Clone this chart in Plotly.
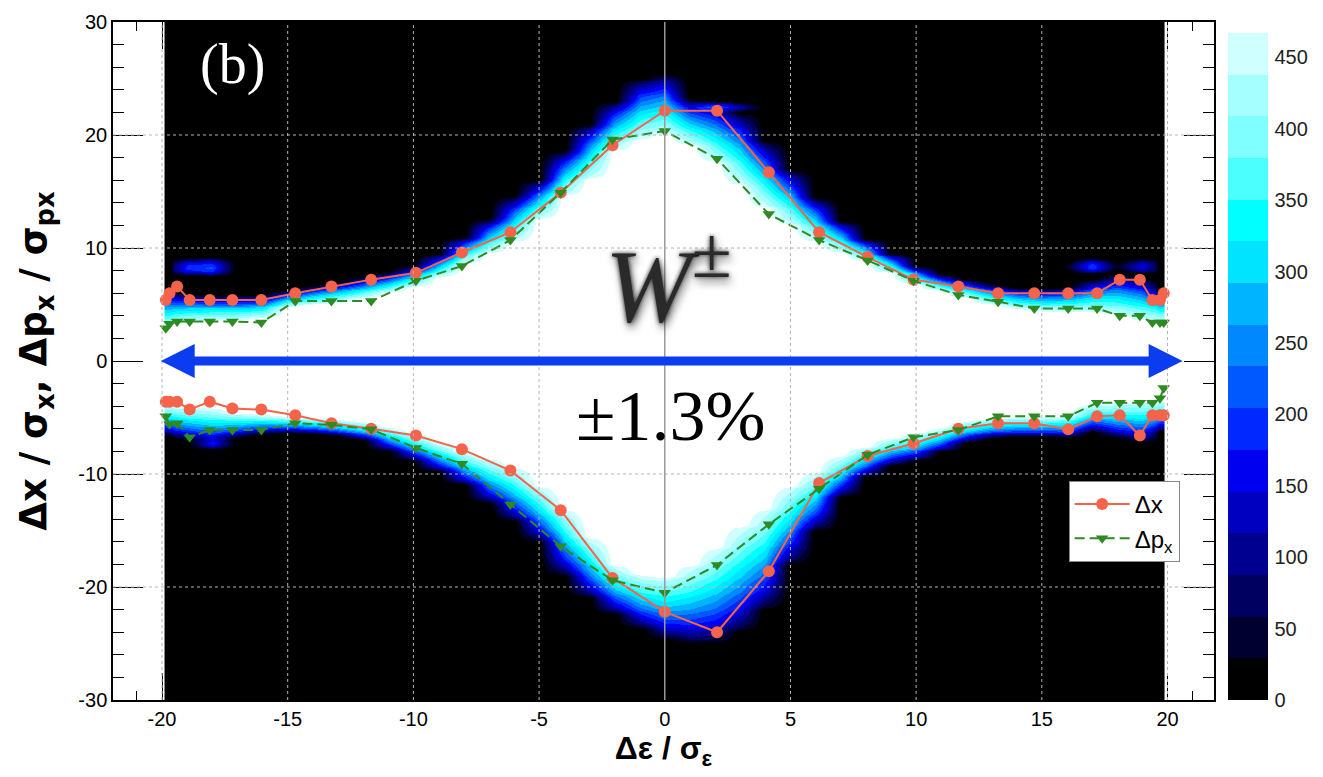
import numpy as np
import plotly.graph_objects as go

# ---------------------------------------------------------------- line data
x_pts = [-19.85, -19.7, -19.4, -18.9, -18.1, -17.2, -16.05, -14.7, -13.26, -11.68,
         -9.9, -8.07, -6.14, -4.14, -2.08, 0.0, 2.08, 4.14, 6.14, 8.07,
         9.9, 11.68, 13.26, 14.7, 16.05, 17.2, 18.1, 18.9, 19.4, 19.7, 19.85]

dx_upper = [5.4, 6.0, 6.6, 5.4, 5.4, 5.4, 5.4, 6.0, 6.6, 7.2,
            7.8, 9.6, 11.4, 14.9, 19.1, 22.15, 22.15, 16.7, 11.4, 9.2,
            7.2, 6.6, 6.0, 6.0, 6.0, 6.0, 7.2, 7.2, 5.4, 5.4, 6.0]
dx_lower = [-3.6, -3.6, -3.6, -4.3, -3.6, -4.2, -4.3, -4.8, -5.5, -6.0,
            -6.6, -7.8, -9.7, -13.2, -19.2, -22.2, -24.0, -18.6, -10.8, -8.4,
            -7.3, -6.0, -5.5, -5.5, -6.05, -4.9, -4.8, -6.6, -4.8, -4.8, -4.8]

dpx_upper = [2.9, 3.3, 3.5, 3.5, 3.5, 3.5, 3.4, 5.3, 5.3, 5.3,
             7.1, 8.4, 10.7, 14.9, 19.6, 20.35, 17.9, 13.0, 10.7, 8.9,
             7.1, 5.85, 5.25, 4.65, 4.65, 4.65, 4.0, 4.0, 3.4, 3.4, 3.4]
dpx_lower = [-4.9, -5.6, -5.5, -6.75, -6.1, -6.1, -6.1, -5.5, -5.65, -6.05,
             -7.7, -9.1, -12.7, -16.4, -19.4, -20.5, -18.05, -14.45, -11.3, -8.3,
             -6.75, -6.1, -4.9, -4.9, -4.9, -3.7, -3.7, -3.7, -3.7, -3.3, -2.4]

# ---------------------------------------------------------------- map data
# per column: edge of the fully populated core (in) and of the populated halo (out)
hm_cols = list(range(-20, 21))
up_in = [3.0, 3.4, 3.6, 3.6, 3.8, 4.8, 5.0, 5.2, 5.5, 6.0,
         6.6, 7.4, 8.6, 9.5, 10.5, 12.5, 14.5, 16.0, 18.5, 19.5,
         20.0, 19.0, 17.5, 15.5, 13.5, 12.0, 10.6, 9.6, 8.8, 7.8,
         6.8, 6.2, 5.6, 5.0, 4.6, 4.4, 4.4, 4.3, 4.0, 3.6, 3.5]
up_out = [6.2, 6.0, 5.8, 5.8, 5.8, 6.2, 6.6, 7.0, 7.4, 7.8,
          8.4, 9.4, 11.0, 12.6, 14.6, 16.0, 18.6, 21.0, 23.0, 25.0,
          25.5, 23.2, 23.0, 22.0, 19.5, 17.0, 14.5, 12.4, 10.8, 9.5,
          8.4, 7.6, 7.2, 6.8, 6.5, 6.4, 6.5, 7.2, 7.7, 7.3, 6.2]
lo_in = [-3.8, -4.0, -4.1, -4.5, -4.7, -4.9, -5.0, -5.2, -5.4, -5.8,
         -6.4, -7.2, -8.0, -8.6, -9.4, -11.0, -13.0, -15.5, -18.0, -18.8,
         -19.0, -18.0, -16.5, -14.5, -13.0, -11.0, -9.8, -8.4, -7.5, -6.8,
         -6.4, -5.9, -5.3, -5.0, -4.9, -4.9, -4.8, -3.8, -3.6, -3.5, -3.5]
lo_out = [-6.6, -7.0, -7.4, -6.8, -6.4, -6.3, -6.4, -6.6, -7.0, -7.9,
          -8.8, -9.8, -11.0, -12.6, -14.2, -16.0, -19.0, -21.0, -22.4, -23.6,
          -24.6, -25.0, -25.0, -24.0, -22.0, -18.0, -15.0, -12.0, -10.2, -9.2,
          -8.8, -8.0, -7.2, -6.8, -6.7, -6.7, -6.8, -6.2, -6.8, -7.2, -6.2]

# isolated populated islands outside the halo
blob_x = [-18.4, 17.0, 19.1, -18.0, 1.9]
blob_y = [8.3, 8.4, 8.4, -7.2, 22.5]
blob_wx = [1.4, 1.1, 0.6, 1.0, 1.6]
blob_wy = [0.9, 0.7, 0.7, 0.6, 0.5]
blob_peak = [230, 210, 160, 180, 230]

cbar_ticks = [0, 50, 100, 150, 200, 250, 300, 350, 400, 450]

# ---------------------------------------------------------------- palette
band_colors = ["#000000", "#000030", "#000060", "#000090", "#0000c0", "#0000f0",
               "#0028ff", "#0058ff", "#0088ff", "#00b4ff", "#00e4ff", "#00ffff",
               "#4cffff", "#7fffff", "#a6ffff", "#d0ffff"]
ZMAX = 467.0
BAND = ZMAX / len(band_colors)
ZTOP = ZMAX + BAND            # one extra white band for the saturated core
RAMP_POWER = 0.7


def stepped(colors):
    n = len(colors)
    out = []
    for i, c in enumerate(colors):
        out.append([i / n, c])
        out.append([(i + 1) / n, c])
    return out


map_scale = stepped(band_colors + ["#ffffff"])
bar_scale = stepped(band_colors)

# ---------------------------------------------------------------- build map grid
y_grid = np.arange(-30.0, 30.001, 0.25)
x_edges = [-19.9] + [c + 0.5 for c in hm_cols[:-1]] + [19.9]
Z = np.zeros((len(y_grid), len(hm_cols)))
for j, xc in enumerate(hm_cols):
    for i, yv in enumerate(y_grid):
        if yv >= 0:
            a, b = up_in[j], up_out[j]
            t = (yv - a) / (b - a)
        else:
            a, b = lo_in[j], lo_out[j]
            t = (a - yv) / (a - b)
        if t <= 0:
            z = ZTOP - 1
        elif t >= 1:
            z = 0.0
        else:
            z = ZMAX * (1 - t) ** RAMP_POWER
        for bx, by, wx, wy, pk in zip(blob_x, blob_y, blob_wx, blob_wy, blob_peak):
            r2 = ((xc - bx) / wx) ** 2 + ((yv - by) / wy) ** 2
            if r2 < 1:
                z = max(z, pk * (1 - r2))
        Z[i, j] = z

# ---------------------------------------------------------------- figure
RED = "#f6634b"
GREEN = "#2f8a22"
fig = go.Figure()

fig.add_trace(go.Heatmap(x=x_edges, y=y_grid, z=Z, zmin=0, zmax=ZTOP,
                         colorscale=map_scale, zsmooth="best", showscale=False,
                         hoverinfo="skip"))

fig.add_trace(go.Scatter(x=x_pts, y=dx_upper, mode="lines+markers", name="Δx",
                         legendgroup="dx", line=dict(color=RED, width=2),
                         marker=dict(symbol="circle", size=12, color=RED)))
fig.add_trace(go.Scatter(x=x_pts, y=dx_lower, mode="lines+markers", name="Δx",
                         legendgroup="dx", showlegend=False, line=dict(color=RED, width=2),
                         marker=dict(symbol="circle", size=12, color=RED)))
fig.add_trace(go.Scatter(x=x_pts, y=dpx_upper, mode="lines+markers", name="Δp<sub>x</sub>",
                         legendgroup="dpx", line=dict(color=GREEN, width=2, dash="10px,5px"),
                         marker=dict(symbol="triangle-down", size=11, color=GREEN)))
fig.add_trace(go.Scatter(x=x_pts, y=dpx_lower, mode="lines+markers", name="Δp<sub>x</sub>",
                         legendgroup="dpx", showlegend=False,
                         line=dict(color=GREEN, width=2, dash="10px,5px"),
                         marker=dict(symbol="triangle-down", size=11, color=GREEN)))

# colour key
fig.add_trace(go.Scatter(x=[None], y=[None], mode="markers", showlegend=False, hoverinfo="skip",
                         marker=dict(color=[0], cmin=0, cmax=ZMAX, colorscale=bar_scale,
                                     showscale=True,
                                     colorbar=dict(x=1.0127, xanchor="left", xpad=0,
                                                   y=0, yanchor="bottom", ypad=0, len=0.984,
                                                   thickness=40, outlinewidth=0,
                                                   tickvals=cbar_ticks, ticks="outside",
                                                   ticklen=3, tickcolor="rgba(0,0,0,0)",
                                                   tickfont=dict(family="Liberation Sans",
                                                                 size=20, color="#222")))))

# grid drawn over the map
shapes = []
for gx in [-20, -15, -10, -5, 5, 10, 15, 20]:
    shapes.append(dict(type="line", xref="x", yref="y domain", x0=gx, x1=gx, y0=0, y1=1,
                       line=dict(color="#b4b4b4", width=1, dash="dot"), layer="above"))
for gy in [-20, -10, 10, 20]:
    shapes.append(dict(type="line", xref="x domain", yref="y", x0=0, x1=1, y0=gy, y1=gy,
                       line=dict(color="#b4b4b4", width=1, dash="dot"), layer="above"))
shapes.append(dict(type="line", xref="x", yref="y domain", x0=0, x1=0, y0=0, y1=1,
                   line=dict(color="#9a9a9a", width=1.5), layer="above"))

# double-headed momentum-acceptance arrow
ARROW_BLUE = "#0b3cf0"
A_LEFT, A_RIGHT, A_HEAD, A_HALF = -20.05, 20.6, 1.35, 1.5
shapes.append(dict(type="line", xref="x", yref="y", x0=A_LEFT + A_HEAD * 0.9, x1=A_RIGHT - A_HEAD * 0.9,
                   y0=0, y1=0, line=dict(color=ARROW_BLUE, width=9), layer="above"))
shapes.append(dict(type="path", xref="x", yref="y", layer="above", line=dict(width=0),
                   fillcolor=ARROW_BLUE,
                   path=f"M {A_LEFT},0 L {A_LEFT + A_HEAD},{A_HALF} L {A_LEFT + A_HEAD},{-A_HALF} Z"))
shapes.append(dict(type="path", xref="x", yref="y", layer="above", line=dict(width=0),
                   fillcolor=ARROW_BLUE,
                   path=f"M {A_RIGHT},0 L {A_RIGHT - A_HEAD},{A_HALF} L {A_RIGHT - A_HEAD},{-A_HALF} Z"))

annotations = [
    dict(x=-17.2, y=26.2, xref="x", yref="y", text="(b)", showarrow=False,
         font=dict(family="Liberation Serif", size=56, color="white")),
    dict(x=0.25, y=-4.9, xref="x", yref="y", text="±1.3%", showarrow=False,
         font=dict(family="Liberation Serif", size=72, color="black")),
    # W label with a soft smoky shadow
    dict(x=0.15, y=7.4, xref="x", yref="y", text="<i>W</i><sup>±</sup>", showarrow=False,
         font=dict(family="Liberation Serif", size=104, color="#2a2a2a",
                   shadow="0px 0px 4px rgba(0,0,0,0.8), 2px 5px 9px rgba(0,0,0,0.6)")),
]

axis_font = dict(family="Liberation Sans", size=20, color="black")
x_ticks = [-20, -15, -10, -5, 0, 5, 10, 15, 20]
y_ticks = [-30, -20, -10, 0, 10, 20, 30]
fig.update_layout(
    width=1323, height=777,
    margin=dict(l=113, r=109, t=22, b=77),
    paper_bgcolor="white", plot_bgcolor="white",
    shapes=shapes, annotations=annotations,
    showlegend=True,
    legend=dict(x=0.868, y=0.323, xanchor="left", yanchor="top", bgcolor="white",
                bordercolor="#888", borderwidth=1, itemwidth=55,
                font=dict(family="Liberation Sans", size=24, color="black"),
                tracegroupgap=0),
    xaxis=dict(range=[-21.95, 21.85], tickvals=x_ticks, ticktext=[str(v) for v in x_ticks],
               ticks="inside", ticklen=27, tickcolor="black", showgrid=False, zeroline=False,
               minor=dict(dtick=1, ticks="inside", ticklen=9, tickcolor="black", showgrid=False),
               showline=True, linecolor="black", linewidth=1.5, mirror="ticks",
               layer="above traces", tickfont=axis_font,
               title=dict(text="<b>Δε / σ<sub>ε</sub></b>", standoff=8,
                          font=dict(family="Liberation Sans", size=32, color="black"))),
    yaxis=dict(range=[-30, 30], tickvals=y_ticks, ticktext=[str(v) for v in y_ticks],
               ticks="inside", ticklen=30, tickcolor="black", showgrid=False, zeroline=False,
               minor=dict(dtick=2, ticks="inside", ticklen=11, tickcolor="black", showgrid=False),
               showline=True, linecolor="black", linewidth=1.5, mirror="ticks",
               layer="above traces", tickfont=axis_font,
               title=dict(text="<b>Δx / σ<sub>x</sub>, Δp<sub>x</sub> / σ<sub>px</sub></b>",
                          standoff=20,
                          font=dict(family="DejaVu Sans", size=37, color="black"))),
)

fig.write_html("out.html")
